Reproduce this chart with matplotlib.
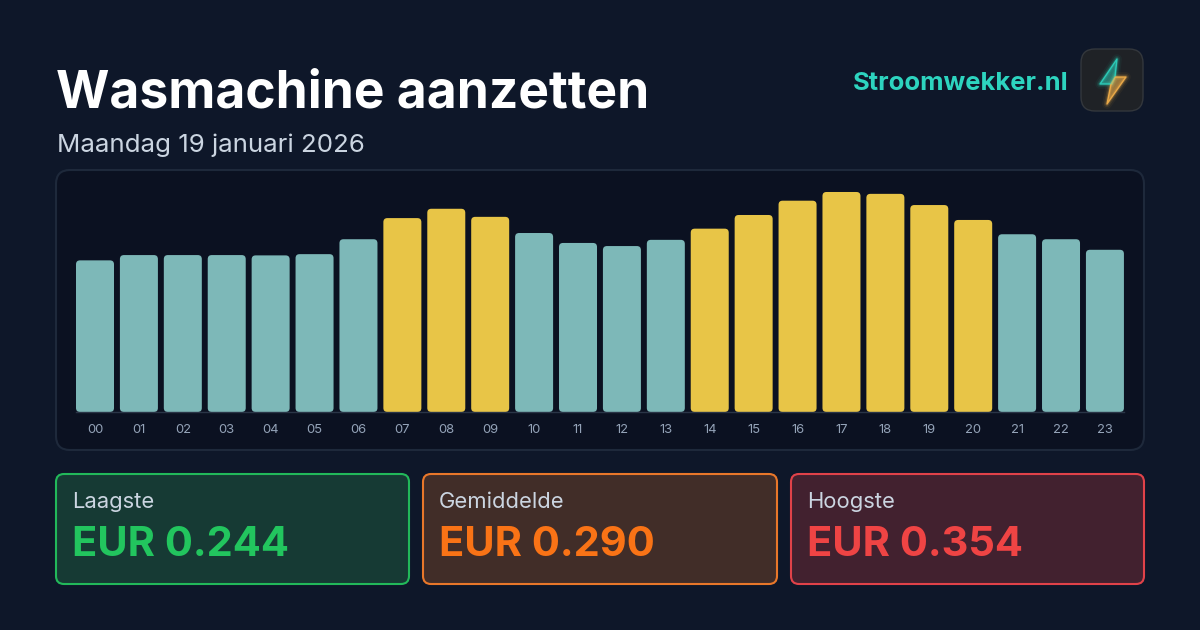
import matplotlib
matplotlib.use('Agg')
import matplotlib.pyplot as plt
from matplotlib.patches import FancyBboxPatch, Polygon

plt.rcParams['font.family'] = ['Inter', 'DejaVu Sans']

uren = ['00', '01', '02', '03', '04', '05', '06', '07', '08', '09', '10', '11',
        '12', '13', '14', '15', '16', '17', '18', '19', '20', '21', '22', '23']
prijzen = [0.244, 0.2525, 0.2525, 0.2525, 0.252, 0.254, 0.278, 0.312, 0.327, 0.314, 0.288, 0.272,
           0.267, 0.277, 0.295, 0.317, 0.340, 0.354, 0.351, 0.333, 0.309, 0.286, 0.278, 0.261]
# uren die geel zijn in de grafiek
geel_uren = ['07', '08', '09', '14', '15', '16', '17', '18', '19', '20']

kaart_namen = ['Laagste', 'Gemiddelde', 'Hoogste']
kaart_waarden = ['EUR 0.244', 'EUR 0.290', 'EUR 0.354']

W, H = 1200, 630
BG = '#0e1729'
fig = plt.figure(figsize=(12, 6.3), dpi=100, facecolor=BG)

# achtergrond as in pixels
bg = fig.add_axes([0, 0, 1, 1])
bg.set_xlim(0, W)
bg.set_ylim(H, 0)
bg.axis('off')


def px(size):
    return size * 0.72


def box(x0, y0, x1, y1, r, fc, ec, lw=1.5):
    p = FancyBboxPatch((x0, y0), x1 - x0, y1 - y0, boxstyle=f'round,pad=0,rounding_size={r}',
                       fc=fc, ec=ec, lw=lw)
    bg.add_patch(p)


bg.text(56, 108, 'Wasmachine aanzetten', color='white', fontsize=px(51.5), fontweight='bold', va='baseline')
bg.text(57, 152, 'Maandag 19 januari 2026', color='#cbd5e1', fontsize=px(25.9), va='baseline')
bg.text(1068, 90, 'Stroomwekker.nl', color='#2dd4bf', fontsize=px(25.6), fontweight='bold', va='baseline', ha='right')

# logo
box(1081, 49, 1143, 111, 14, '#1f2226', '#33373c', 1)
boven = [(1117, 59), (1100, 84), (1112, 84), (1115, 77)]
onder = [(1115, 77), (1126, 77), (1107, 104), (1111, 84)]
for lw, a in [(7, 0.05), (4.5, 0.10), (2.5, 0.22), (1.0, 0.9)]:
    bg.add_patch(Polygon(boven, closed=True, fill=False, ec='#2dd4bf', lw=lw, alpha=a, joinstyle='round'))
    bg.add_patch(Polygon(onder, closed=True, fill=False, ec='#f5b14a', lw=lw, alpha=a, joinstyle='round'))
bg.add_patch(Polygon(boven, closed=True, fc='#2dd4bf', ec='none', alpha=0.45))
bg.add_patch(Polygon(onder, closed=True, fc='#f5b14a', ec='none', alpha=0.55))

# paneel van de grafiek
box(56, 170, 1144, 450, 14, '#0b1121', '#1e293b', 1.5)

# kaarten
kaart_x = [(56, 409), (423, 777), (791, 1144)]
kaart_fc = ['#163a34', '#412d28', '#42212f']
kaart_ec = ['#22b85a', '#e8772a', '#e04249']
kaart_tc = ['#22c55e', '#f97316', '#ef4444']
for i in range(3):
    x0, x1 = kaart_x[i]
    box(x0, 474, x1, 584, 8, kaart_fc[i], kaart_ec[i], 1.5)
    bg.text(x0 + 16, 508, kaart_namen[i], color='#cbd5e1', fontsize=px(22), va='baseline')
    bg.text(x0 + 16, 556, kaart_waarden[i], color=kaart_tc[i], fontsize=px(41.6), fontweight='bold', va='baseline')

# grafiek as: 1 uur = 43.91 px, 1 EUR = 621.5 px
stap = 43.91
schaal = 621.5
links = 95 - stap / 2
ax = fig.add_axes([links / W, (H - 412) / H, stap * 24 / W, 242 / H])
ax.patch.set_alpha(0)
ax.set_xlim(-0.5, 23.5)
ax.set_ylim(0, 242 / schaal)
for s in ['top', 'left', 'right']:
    ax.spines[s].set_visible(False)
breedte = 38 / stap
ax.spines['bottom'].set_color('#2a3547')
ax.spines['bottom'].set_linewidth(1)
ax.spines['bottom'].set_bounds(-breedte / 2, 23 + breedte / 2)
ax.set_yticks([])
ax.set_xticks(range(len(uren)))
ax.set_xticklabels(uren, fontsize=px(13), color='#94a3b8')
ax.tick_params(axis='x', length=0, pad=8.5)

r = 4 / stap
for i, (uur, prijs) in enumerate(zip(uren, prijzen)):
    kleur = '#e8c547' if uur in geel_uren else '#7db8b8'
    ax.add_patch(FancyBboxPatch((i - breedte / 2, 0), breedte, prijs,
                                boxstyle=f'round,pad=0,rounding_size={r}',
                                mutation_aspect=stap / schaal, fc=kleur, ec='none'))

fig.savefig('out.png', dpi=100, facecolor=BG)
